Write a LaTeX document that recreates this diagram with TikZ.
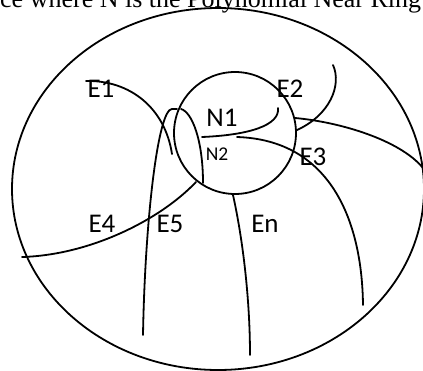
\documentclass[tikz,border=0pt]{standalone}
\usepackage{fontspec}
\setmainfont{Liberation Serif}
\newfontfamily\lbl{Carlito}
\begin{document}
\begin{tikzpicture}[x=1pt,y=-1pt,
  curve/.style={line width=1.8pt, line cap=round},
  lab/.style={inner sep=0pt, font=\lbl\fontsize{27}{27}\selectfont},
  smalllab/.style={inner sep=0pt, font=\lbl\fontsize{19.5}{19.5}\selectfont}]
\path[use as bounding box, clip] (0,0) rectangle (423,370);
% top caption, cut by the picture's edge
\node[anchor=base west, inner sep=0pt, font=\fontsize{26}{26}\selectfont] (cap) at (0,7) {ce where N is the Polynomial Near Ring};
% outer ellipse and inner circle
\draw[curve] (218,189) ellipse [x radius=206, y radius=181];
\draw[curve] (235,133) circle [radius=61];
% labels
\node[lab] (e1) at (101,89) {E1};
\node[lab] (e2) at (290,89) {E2};
\node[lab] (n1) at (222,118) {N1};
\node[smalllab] (n2) at (217,154) {N2};
\node[lab] (e3) at (313,157) {E3};
\node[lab] (e4) at (102,224) {E4};
\node[lab] (e5) at (170,224) {E5};
\node[lab] (en) at (265,224) {En};
% curves
\draw[curve] (86,81) .. controls (130,80) and (165,108) .. (172,154);
\draw[curve] (143,335) .. controls (145,220) and (158,109) .. (172,109) -- (177,109);
\draw[curve] (181,109) .. controls (192,112) and (203,140) .. (203,183);
\draw[curve] (196,182) .. controls (160,220) and (90,255) .. (22,257);
\draw[curve] (233,195) .. controls (243,240) and (250,300) .. (250,355);
\draw[curve] (237,137) .. controls (330,140) and (362,220) .. (363,305);
\draw[curve] (202,137) .. controls (250,135) and (280,125) .. (278,108);
\draw[curve] (295,118) .. controls (340,122) and (400,140) .. (423,168);
\draw[curve] (333,65) .. controls (342,85) and (330,115) .. (297,130);
\end{tikzpicture}
\end{document}
